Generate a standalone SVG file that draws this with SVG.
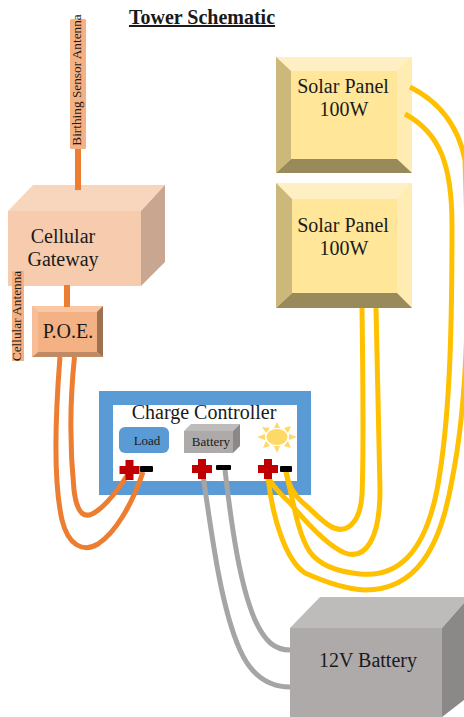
<svg xmlns="http://www.w3.org/2000/svg" width="464" height="717" viewBox="0 0 464 717">
<style>
text{font-family:"Liberation Serif","Times New Roman",serif;fill:#1a1a1a;text-anchor:middle}
.w{fill:none;stroke-width:5}
.o{stroke:#ed7d31}.y{stroke:#ffc000}.g{stroke:#a5a5a5}
.f19{font-size:20px}.f12{font-size:13px}
.plus{fill:#c00000}.minus{fill:#000}
</style>
<rect width="464" height="717" fill="#fff"/>
<text id="title" x="202" y="24" font-size="20" font-weight="bold" text-decoration="underline">Tower Schematic</text>

<g id="birthing-antenna">
<rect x="70" y="19" width="16" height="130" rx="1.500" fill="#f4b183"/>
<text transform="translate(81,80) rotate(-90)" font-size="13.300">Birthing Sensor Antenna</text>
</g>
<g id="cellular-gateway">
<polygon points="8,211 33,185 165,185 141,211" fill="#f8d5bd"/>
<polygon points="141,211 165,185 165,262 141,286" fill="#c8a68f"/>
<rect x="8" y="211" width="133" height="75" fill="#f6cbae"/>
<text class="f19" x="63" y="243">Cellular</text>
<text class="f19" x="63" y="266">Gateway</text>
</g>
<g id="cellular-antenna">
<rect x="12" y="271" width="12" height="90" fill="#f4b183"/>
<text transform="translate(21,316) rotate(-90)" font-size="13.300">Cellular Antenna</text>
</g>
<g id="poe">
<rect x="32" y="306" width="71" height="51" fill="#f4b183"/>
<polygon points="32,306 103,306 97,312 38,312" fill="#f7c7a6"/>
<polygon points="103,306 103,357 97,352 97,312" fill="#9c7250"/>
<polygon points="32,357 103,357 97,352 38,352" fill="#c08b64"/>
<polygon points="32,306 38,312 38,352 32,357" fill="#f6bd97"/>
<text class="f19" x="68" y="338">P.O.E.</text>
</g>
<g id="solar-panel-1">
<rect x="276" y="57" width="136" height="116" fill="#ffe699"/>
<polygon points="276,57 412,57 397,71 291,71" fill="#fff0c4"/>
<polygon points="412,57 412,173 397,159 397,71" fill="#ffecb3"/>
<polygon points="276,173 412,173 397,159 291,159" fill="#998a5c"/>
<polygon points="276,57 291,71 291,159 276,173" fill="#ccb87a"/>
<text class="f19" x="343" y="93">Solar Panel</text>
<text class="f19" x="344" y="116">100W</text>
</g>
<g id="solar-panel-2">
<rect x="276" y="183" width="136" height="125" fill="#ffe699"/>
<polygon points="276,183 412,183 397,199 292,199" fill="#fff0c4"/>
<polygon points="412,183 412,308 397,293 397,199" fill="#ffecb3"/>
<polygon points="276,308 412,308 397,293 292,293" fill="#998a5c"/>
<polygon points="276,183 292,199 292,293 276,308" fill="#ccb87a"/>
<text class="f19" x="343" y="232">Solar Panel</text>
<text class="f19" x="344" y="255">100W</text>
</g>
<g id="charge-controller">
<rect x="99" y="391" width="212" height="104" fill="#5b9bd5"/>
<rect x="113" y="405" width="184" height="76" fill="#fff"/>
<text class="f19" x="204" y="419">Charge Controller</text>
<rect x="119" y="427" width="50" height="26" rx="6" fill="#5b9bd5"/>
<text class="f12" x="147" y="445">Load</text>
<polygon points="184,431 191,424 240,424 233,431" fill="#bebbbb"/>
<polygon points="233,431 240,424 240,446 233,453" fill="#8b8888"/>
<rect x="184" y="431" width="49" height="22" fill="#aeaaaa"/>
<text class="f12" x="211" y="446">Battery</text>
<g id="sun" fill="#ffd966">
<ellipse cx="277" cy="437" rx="10.500" ry="8"/>
<polygon points="277,422 274,428 280,428"/>
<polygon points="277,453 274,446 280,446"/>
<polygon points="257,437 265,434 265,440"/>
<polygon points="297,437 289,434 289,440"/>
<polygon points="262,427 270,428 266,433"/>
<polygon points="291,426 284,428 288,433"/>
<polygon points="263,448 270,446 266,441"/>
<polygon points="291,448 284,446 288,441"/>
</g>
</g>
<g id="battery">
<polygon points="290,628 320,597 464,597 464,603 442,628" fill="#bebbbb"/>
<polygon points="442,628 464,603 464,700 442,717" fill="#8b8888"/>
<rect x="290" y="628" width="152" height="89" fill="#aeaaaa"/>
<text x="368" y="667" font-size="20">12V Battery</text>
</g>

<g id="connectors">
<path class="w o" style="stroke-width:6" d="M78,149V190"/>
<path class="w o" style="stroke-width:6" d="M67,285V307"/>
<path class="w o" d="M60,357C55,420 53,480 62,520C68,545 83,553 98,544C115,533 132,505 143,472"/>
<path class="w o" d="M74.500,357C70,400 70,450 74,490C77,515 85,520 97,511C108,503 118,490 128,474"/>
<path class="w g" d="M203,475C213,545 222,610 240,650C252,677 270,687 290,687"/>
<path class="w g" d="M225,470C232,530 240,585 255,620C265,642 275,650 290,650"/>
<path class="w y" d="M362,308C363,380 364,450 362,495C360,525 345,535 330,526C320,520 312,510 303,503C293,494 288,485 286,472"/>
<path class="w y" d="M376,308C378,380 379,450 380,490C380,540 365,560 345,553C325,545 300,515 290,503C278,492 272,485 268,477"/>
<path class="w y" d="M405,114C440,133 452,165 452,225C452,330 450,420 437,490C425,550 400,578 360,574C340,572 320,566 310,552C298,535 293,500 286,472"/>
<path class="w y" d="M410,87C440,102 458,125 465,160C470,300 468,400 452,480C440,550 415,590 365,590C345,589 325,582 305,573C285,560 272,515 268,477"/>
</g>

<g id="terminals">
<path class="plus" d="M125.500,460h8v6h6v8h-6v6h-8v-6h-6v-8h6z"/>
<rect class="minus" x="140" y="466" width="13" height="6" rx="1"/>
<path class="plus" d="M198,459h8v6h6v8h-6v6h-8v-6h-6v-8h6z"/>
<rect class="minus" x="216" y="465" width="15" height="5" rx="1"/>
<path class="plus" d="M264,459h8v6h6v8h-6v6h-8v-6h-6v-8h6z"/>
<rect class="minus" x="280" y="466" width="12" height="6" rx="1"/>
</g>
</svg>
